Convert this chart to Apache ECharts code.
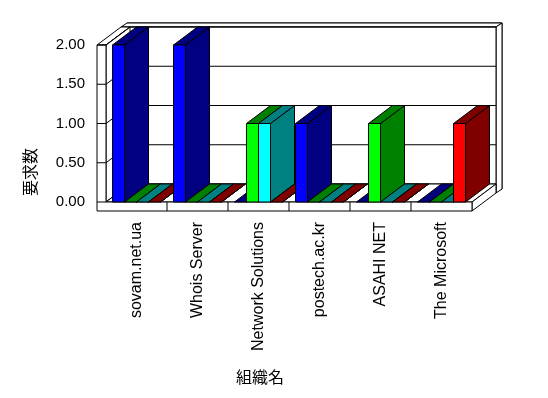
<!DOCTYPE html>
<html>
<head>
  <meta charset="utf-8">
  <title>ECharts</title>
  <script src="https://cdn.jsdelivr.net/npm/echarts@6/dist/echarts.min.js"></script>
</head>
<body style="margin:0;">
<div id="main" style="width: 548px;height:398px;"></div>
<script type="text/javascript">
  // データ
  var categories = ['sovam.net.ua', 'Whois Server', 'Network Solutions', 'postech.ac.kr', 'ASAHI NET', 'The Microsoft'];
  var blueVals  = [2, 2, 0, 1, 0, 0];
  var greenVals = [0, 0, 1, 0, 1, 0];
  var cyanVals  = [0, 0, 1, 0, 0, 0];
  var redVals   = [0, 0, 0, 0, 0, 1];
  var yTicks = [0, 0.5, 1, 1.5, 2];

  var allVals = [blueVals, greenVals, cyanVals, redVals];
  var frontColors = ['#0000ff', '#00ff00', '#00ffff', '#ff0000'];
  var darkColors  = ['#000080', '#008000', '#008080', '#800000'];

  // 奥行き
  var DX = 24, DY = 18, WT = 9, BX = 6, BY = 4, BAR_W = 12;

  // カテゴリ順 → 系列順に並べる（手前から描く順番）
  var barData = [];
  categories.forEach(function (c, i) {
    allVals.forEach(function (vals, s) {
      barData.push([i, vals[i], s]);
    });
  });

  var lineStyle = { stroke: '#000', lineWidth: 1, fill: null };

  function poly(points, fill) {
    return { type: 'polygon', shape: { points: points }, style: { fill: fill, stroke: '#000', lineWidth: 1 } };
  }
  function seg(x1, y1, x2, y2) {
    return { type: 'line', shape: { x1: x1, y1: y1, x2: x2, y2: y2 }, style: lineStyle };
  }

  function renderFrame(params, api) {
    var cs = params.coordSys;
    var L = cs.x, R = cs.x + cs.width, T = cs.y, B = cs.y + cs.height;
    var kids = [];
    // 奥の壁
    kids.push(poly([[L - WT + DX + BX, T - DY - BY], [R + DX + BX, T - DY - BY], [R + DX + BX, B + WT - DY - BY], [L - WT + DX + BX, B + WT - DY - BY]], '#fff'));
    kids.push(poly([[L - WT + DX, T - DY], [R + DX, T - DY], [R + DX + BX, T - DY - BY], [L - WT + DX + BX, T - DY - BY]], '#fff'));
    kids.push(poly([[R + DX, T - DY], [R + DX + BX, T - DY - BY], [R + DX + BX, B + WT - DY - BY], [R + DX, B + WT - DY]], '#fff'));
    kids.push(poly([[L - WT + DX, T - DY], [R + DX, T - DY], [R + DX, B + WT - DY], [L - WT + DX, B + WT - DY]], '#fff'));
    yTicks.forEach(function (v) {
      var y = api.coord([0, v])[1];
      kids.push(seg(L + DX, y - DY, R + DX, y - DY));
    });
    // 左の壁
    kids.push(poly([[L - WT, T], [L, T], [L + DX, T - DY], [L - WT + DX, T - DY]], '#fff'));
    kids.push(poly([[L, T], [L + DX, T - DY], [L + DX, B - DY], [L, B]], '#fff'));
    yTicks.forEach(function (v) {
      var y = api.coord([0, v])[1];
      kids.push(seg(L, y, L + DX, y - DY));
    });
    // 床
    kids.push(poly([[L, B], [R, B], [R + DX, B - DY], [L + DX, B - DY]], '#fff'));
    kids.push(poly([[R, B], [R + DX, B - DY], [R + DX, B + WT - DY], [R, B + WT]], '#fff'));
    // 正面
    kids.push(poly([[L - WT, T], [L, T], [L, B], [R, B], [R, B + WT], [L - WT, B + WT]], '#fff'));
    yTicks.forEach(function (v) {
      var y = api.coord([0, v])[1];
      kids.push(seg(L - WT, y, L, y));
    });
    for (var i = 0; i < categories.length - 1; i++) {
      var x = (api.coord([i, 0])[0] + api.coord([i + 1, 0])[0]) / 2;
      kids.push(seg(x, B, x, B + WT));
    }
    return { type: 'group', children: kids };
  }

  function renderBar(params, api) {
    var cat = api.value(0), val = api.value(1), s = api.value(2);
    var base = api.coord([cat, 0]);
    var top = api.coord([cat, val]);
    var x = base[0] - 2 * BAR_W + s * BAR_W;
    var y0 = base[1], yt = top[1];
    var dark = darkColors[s], front = frontColors[s];
    var kids = [];
    kids.push(poly([[x + BAR_W, yt], [x + BAR_W + DX, yt - DY], [x + BAR_W + DX, y0 - DY], [x + BAR_W, y0]], dark));
    kids.push(poly([[x, yt], [x + BAR_W, yt], [x + BAR_W + DX, yt - DY], [x + DX, yt - DY]], dark));
    if (y0 - yt > 0) {
      kids.push({ type: 'rect', shape: { x: x, y: yt, width: BAR_W, height: y0 - yt }, style: { fill: front, stroke: '#000', lineWidth: 1 } });
    }
    return { type: 'group', children: kids };
  }

  var myChart = echarts.init(document.getElementById('main'));

  var option = {
    backgroundColor: '#fff',
    animation: false,
    grid: { left: 106, right: 76, top: 45, bottom: 196 },
    xAxis: {
      type: 'category',
      data: categories,
      axisLine: { show: false },
      axisTick: { show: false },
      axisLabel: {
        rotate: 90, margin: 20, interval: 0,
        color: '#000', fontSize: 16, fontFamily: 'Liberation Sans'
      }
    },
    yAxis: {
      type: 'value',
      min: 0, max: 2, interval: 0.5,
      axisLine: { show: false },
      axisTick: { show: false },
      splitLine: { show: false },
      axisLabel: {
        margin: 21, color: '#000', fontSize: 15, fontFamily: 'Liberation Sans',
        formatter: function (v) { return v.toFixed(2); }
      }
    },
    graphic: [
      {
        type: 'text', x: 30, y: 172, rotation: Math.PI / 2,
        style: { text: '要求数', fontSize: 16, fontFamily: 'Noto Sans CJK JP', fill: '#000', align: 'center', verticalAlign: 'middle' }
      },
      {
        type: 'text', x: 260, y: 377,
        style: { text: '組織名', fontSize: 16, fontFamily: 'Noto Sans CJK JP', fill: '#000', align: 'center', verticalAlign: 'middle' }
      }
    ],
    series: [
      {
        name: 'frame', type: 'custom', z: 1, silent: true,
        data: [[0, 0]], encode: { x: 0, y: 1 },
        renderItem: renderFrame
      },
      {
        name: 'bars', type: 'custom', z: 2,
        data: barData, encode: { x: 0, y: 1 },
        renderItem: renderBar
      }
    ]
  };

  myChart.setOption(option);
</script>
</body>
</html>
